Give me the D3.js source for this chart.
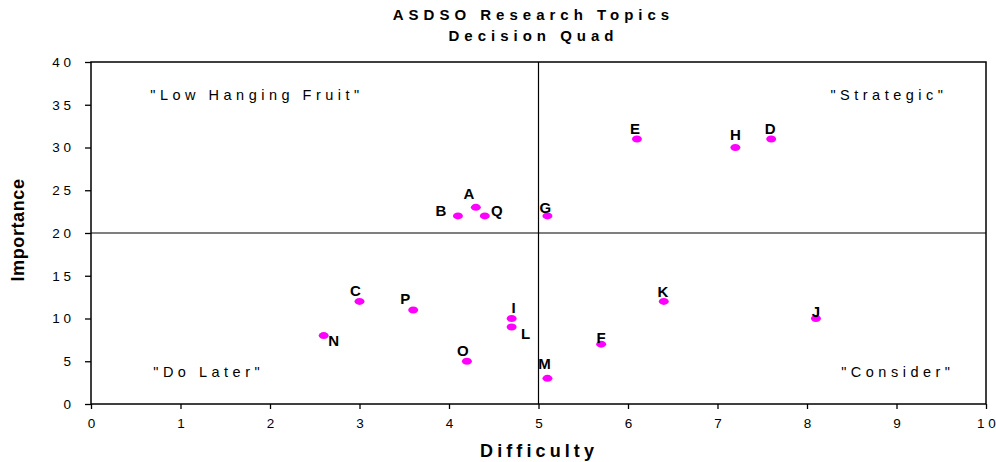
<!DOCTYPE html>
<html><head><meta charset="utf-8">
<script src="https://cdn.jsdelivr.net/npm/d3@7"></script>
<style>body{margin:0;background:#fff}text{font-family:"Liberation Sans",Arial,sans-serif}</style>
</head><body>
<script>
const names = ["A","B","C","D","E","F","G","H","I","J","K","L","M","N","O","P","Q"];
const difficulty = [4.3,4.1,3.0,7.6,6.1,5.7,5.1,7.2,4.7,8.1,6.4,4.7,5.1,2.6,4.2,3.6,4.4];
const importance = [23,22,12,31,31,7,22,30,10,10,12,9,3,8,5,11,22];
const xTicks = [0,1,2,3,4,5,6,7,8,9,10];
const yTicks = [0,5,10,15,20,25,30,35,40];
const quadrantLabels = ["\"Low Hanging Fruit\"","\"Strategic\"","\"Do Later\"","\"Consider\""];
const titleLines = ["ASDSO Research Topics","Decision Quad"];

const W=996,H=462;
const m={l:91,r:10,t:62,b:58};
const svg=d3.select("body").append("svg").attr("width",W).attr("height",H);
const x=d3.scaleLinear().domain([0,10]).range([m.l,W-m.r]);
const y=d3.scaleLinear().domain([0,40]).range([H-m.b,m.t]);

// title
const ts=5.0;
svg.selectAll("text.title").data(titleLines).join("text").attr("class","title")
  .attr("x",531+ts/2).attr("y",(d,i)=>20+i*21).attr("text-anchor","middle")
  .attr("font-size",15).attr("font-weight","bold").attr("letter-spacing",ts+"px").text(d=>d);

// axes
const xa=svg.append("g").attr("transform",`translate(0,${y(0)})`)
  .call(d3.axisBottom(x).tickValues(xTicks).tickSize(5).tickPadding(9).tickFormat(d=>String(d).split("").join(" ")));
const ya=svg.append("g").attr("transform",`translate(${x(0)},0)`)
  .call(d3.axisLeft(y).tickValues(yTicks).tickSize(6).tickPadding(14).tickFormat(d=>String(d).split("").join(" ")));
[xa,ya].forEach(a=>{a.select(".domain").remove();a.selectAll("line").attr("stroke","#000").attr("stroke-width",1.3);
  a.selectAll("text").attr("font-size",13.5).attr("fill","#000").attr("font-family","Liberation Sans, Arial, sans-serif");});

// border
svg.append("rect").attr("x",x(0)).attr("y",y(40)).attr("width",x(10)-x(0)).attr("height",y(0)-y(40))
  .attr("fill","none").attr("stroke","#000").attr("stroke-width",1.5);
// quadrant lines
svg.append("line").attr("x1",x(5)).attr("x2",x(5)).attr("y1",y(40)).attr("y2",y(0)).attr("stroke","#000").attr("stroke-width",1.2);
svg.append("line").attr("x1",x(0)).attr("x2",x(10)).attr("y1",y(20)).attr("y2",y(20)).attr("stroke","#000").attr("stroke-width",1.2);

// quadrant labels
const qs=4.5;
const qpos=[[1.83,35.5],[8.89,35.5],[1.29,3.2],[8.99,3.2]];
svg.selectAll("text.q").data(quadrantLabels).join("text").attr("class","q")
  .attr("x",(d,i)=>x(qpos[i][0])+qs/2).attr("y",(d,i)=>y(qpos[i][1])).attr("text-anchor","middle")
  .attr("font-size",14.5).attr("letter-spacing",qs+"px").text(d=>d);

// axis titles
const as=4.1;
svg.append("text").attr("x",537+as/2).attr("y",457).attr("text-anchor","middle")
  .attr("font-size",18).attr("font-weight","bold").attr("letter-spacing",as+"px").text("Difficulty");
svg.append("text").attr("transform",`translate(24,${y(20)-3}) rotate(-90)`).attr("text-anchor","middle")
  .attr("font-size",18).attr("font-weight","bold").attr("letter-spacing","0.6px").text("Importance");

// points
const pts=names.map((n,i)=>({n,x:difficulty[i],y:importance[i]}));
svg.selectAll("ellipse").data(pts).join("ellipse")
  .attr("cx",d=>x(d.x)).attr("cy",d=>y(d.y)).attr("rx",5).attr("ry",3.5).attr("fill","#ff00ff");

// label placement (dx,dy of label center/baseline from point)
const off={A:[-7,-8],B:[-17,0],Q:[12,0],G:[-2,-3],E:[-2,-5],H:[0,-8],D:[-1,-5],C:[-4,-5],P:[-8,-6],
  I:[2,-6],L:[14,12],N:[10,10],O:[-4,-5],M:[-3,-9],K:[-1,-4],F:[0,-1],J:[0,-2]};
svg.selectAll("text.lbl").data(pts).join("text").attr("class","lbl")
  .attr("x",d=>x(d.x)+off[d.n][0]).attr("y",d=>y(d.y)+off[d.n][1]).attr("text-anchor","middle")
  .attr("font-size",15).attr("font-weight","bold").text(d=>d.n);
</script>
</body></html>
